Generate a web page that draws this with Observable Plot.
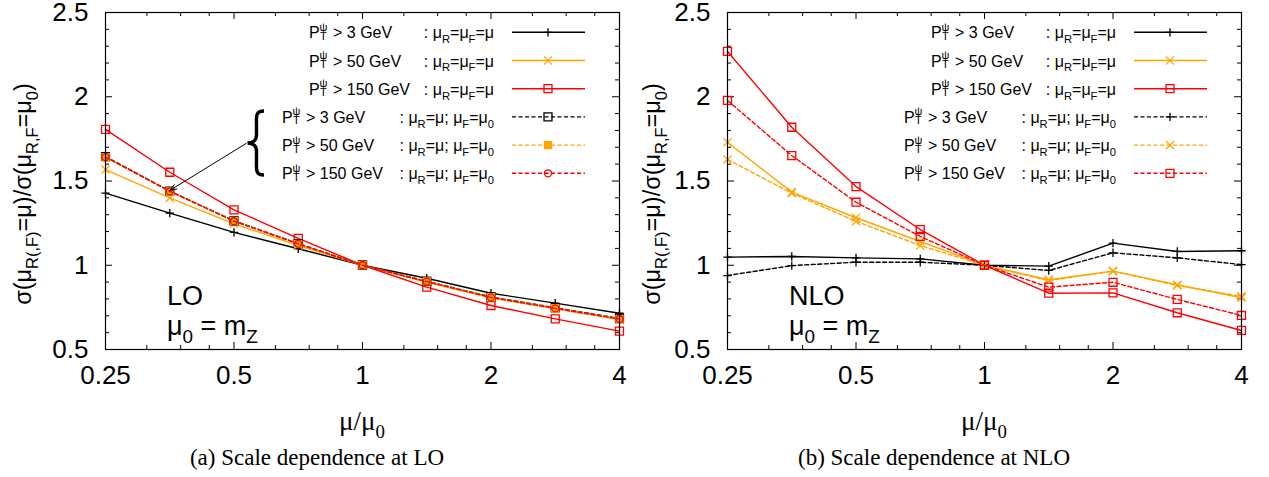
<!DOCTYPE html>
<html><head><meta charset="utf-8">
<script src="https://cdn.jsdelivr.net/npm/d3@7"></script>
<script src="https://cdn.jsdelivr.net/npm/@observablehq/plot@0.6"></script>
<style>
body{margin:0;background:#fff;}
#wrap{position:relative;width:1269px;height:477px;overflow:hidden;background:#fff;}
#wrap svg{position:absolute;top:0;}
.cap{position:absolute;top:445px;width:500px;text-align:center;font-family:"Liberation Serif","Times New Roman",serif;font-size:23px;line-height:26px;color:#000;}
</style></head>
<body><div id="wrap"></div>
<script>
// ---------- data ----------
const muRatio = [0.25, 0.3536, 0.5, 0.7071, 1, 1.4142, 2, 2.8284, 4];

// LO: mu_R = mu_F = mu
const loPt3RF   = [1.428, 1.309, 1.195, 1.098, 1.0, 0.923, 0.834, 0.775, 0.715];
const loPt50RF  = [1.568, 1.400, 1.246, 1.117, 1.0, 0.899, 0.807, 0.741, 0.678];
const loPt150RF = [1.806, 1.552, 1.329, 1.160, 1.0, 0.870, 0.761, 0.682, 0.609];
// LO: mu_R = mu ; mu_F = mu_0
const loPt3R    = [1.645, 1.440, 1.264, 1.129, 1.0, 0.905, 0.812, 0.748, 0.684];
const loPt50R   = [1.641, 1.438, 1.262, 1.127, 1.0, 0.904, 0.810, 0.745, 0.682];
const loPt150R  = [1.642, 1.439, 1.261, 1.127, 1.0, 0.903, 0.809, 0.744, 0.681];

// NLO: mu_R = mu_F = mu
const nloPt3RF   = [1.048, 1.052, 1.044, 1.038, 1.0, 0.995, 1.131, 1.082, 1.086];
const nloPt50RF  = [1.730, 1.434, 1.282, 1.141, 1.0, 0.914, 0.965, 0.884, 0.807];
const nloPt150RF = [2.269, 1.819, 1.467, 1.212, 1.0, 0.834, 0.836, 0.718, 0.613];
// NLO: mu_R = mu ; mu_F = mu_0
const nloPt3R    = [0.939, 0.998, 1.018, 1.018, 1.0, 0.969, 1.074, 1.044, 1.004];
const nloPt50R   = [1.628, 1.428, 1.261, 1.117, 1.0, 0.909, 0.965, 0.880, 0.815];
const nloPt150R  = [1.978, 1.651, 1.374, 1.171, 1.0, 0.870, 0.899, 0.797, 0.702];

const ptCuts = ["3", "50", "150"];
const xMajor = [0.25, 0.5, 1, 2, 4];
const xMinor = [0.3125, 0.375, 0.4375, 0.625, 0.75, 0.875, 1.25, 1.5, 1.75, 2.5, 3, 3.5];
const yMajor = [0.5, 1, 1.5, 2, 2.5];
const yMinor = [0.6,0.7,0.8,0.9,1.1,1.2,1.3,1.4,1.6,1.7,1.8,1.9,2.1,2.2,2.3,2.4];

// annotation (left panel): arrow from brace to the overlapping points
const arrowLO = [{x1: 0.534, y1: 1.723, x2: 0.3536, y2: 1.444}];

// ---------- styling ----------
const BLACK = "#000000", ORANGE = "#ffa500", RED = "#ff0000";
const SANS = "'Liberation Sans', Arial, Helvetica, sans-serif";
const SERIF = "'Liberation Serif', 'Times New Roman', serif";

const loSeries = [
  {values: loPt3RF,   color: BLACK,  dash: false, symbol: "plus",   r: 2.8, fill: "none", cut: 0, kind: "RF"},
  {values: loPt50RF,  color: ORANGE, dash: false, symbol: "times",  r: 3.8, fill: "none", cut: 1, kind: "RF"},
  {values: loPt150RF, color: RED,    dash: false, symbol: "square", r: 4.5, fill: "none", cut: 2, kind: "RF"},
  {values: loPt3R,    color: BLACK,  dash: true,  symbol: "square", r: 4.5, fill: "none", cut: 0, kind: "R"},
  {values: loPt50R,   color: ORANGE, dash: true,  symbol: "square", r: 4,   fill: ORANGE, cut: 1, kind: "R"},
  {values: loPt150R,  color: RED,    dash: true,  symbol: "circle", r: 3.5, fill: "none", cut: 2, kind: "R"}
];
const nloSeries = [
  {values: nloPt3RF,   color: BLACK,  dash: false, symbol: "plus",   r: 2.8, fill: "none", cut: 0, kind: "RF"},
  {values: nloPt50RF,  color: ORANGE, dash: false, symbol: "times",  r: 3.8, fill: "none", cut: 1, kind: "RF"},
  {values: nloPt150RF, color: RED,    dash: false, symbol: "square", r: 4.5, fill: "none", cut: 2, kind: "RF"},
  {values: nloPt3R,    color: BLACK,  dash: true,  symbol: "plus",   r: 2.8, fill: "none", cut: 0, kind: "R"},
  {values: nloPt50R,   color: ORANGE, dash: true,  symbol: "times",  r: 3.8, fill: "none", cut: 1, kind: "R"},
  {values: nloPt150R,  color: RED,    dash: true,  symbol: "square", r: 4.5, fill: "none", cut: 2, kind: "R"}
];

const symbolMap = {plus: d3.symbolPlus, times: d3.symbolTimes, square: d3.symbolSquare, circle: d3.symbolCircle};

function rich(textSel, parts, size) {
  let cur = 0;
  for (const [t, kind] of parts) {
    const off = kind === "sub" ? 0.3 * size : kind === "sup" ? -0.4 * size : 0;
    const ts = textSel.append("tspan").text(t).attr("dy", off - cur);
    if (kind !== "n") ts.attr("font-size", 0.7 * size);
    cur = off;
  }
}

function makePanel(cfg) {
  const {width, marginLeft, marginRight, series, order, yLabelX, arrows} = cfg;
  const height = 440, marginTop = 12, marginBottom = 91;
  const pw = width - marginLeft - marginRight, ph = height - marginTop - marginBottom;
  const majLen = 7, minLen = 4;
  const marks = [
    Plot.tickX(xMajor, {x: d => d, insetTop: ph - majLen, stroke: BLACK}),
    Plot.tickX(xMajor, {x: d => d, insetBottom: ph - majLen, stroke: BLACK}),
    Plot.tickX(xMinor, {x: d => d, insetTop: ph - minLen, stroke: BLACK}),
    Plot.tickX(xMinor, {x: d => d, insetBottom: ph - minLen, stroke: BLACK}),
    Plot.tickY(yMajor, {y: d => d, insetRight: pw - majLen, stroke: BLACK}),
    Plot.tickY(yMajor, {y: d => d, insetLeft: pw - majLen, stroke: BLACK}),
    Plot.tickY(yMinor, {y: d => d, insetRight: pw - minLen, stroke: BLACK}),
    Plot.tickY(yMinor, {y: d => d, insetLeft: pw - minLen, stroke: BLACK}),
    Plot.axisX({ticks: xMajor, tickSize: 0, tickPadding: 16, tickFormat: d => String(d), fontSize: 26, label: null}),
    Plot.axisY({ticks: yMajor, tickSize: 0, tickPadding: 17, tickFormat: d => String(d), fontSize: 26, label: null})
  ];
  for (const s of series) {
    const data = muRatio.map((m, i) => ({mu: m, v: s.values[i]}));
    marks.push(Plot.line(data, {x: "mu", y: "v", stroke: s.color, strokeWidth: 1.4,
      ...(s.dash ? {strokeDasharray: "4,2.5"} : {})}));
    marks.push(Plot.dot(data, {x: "mu", y: "v", symbol: s.symbol, r: s.r, stroke: s.color, fill: s.fill, strokeWidth: 1.3}));
  }
  if (arrows) {
    marks.push(Plot.arrow(arrows, {x1: "x1", y1: "y1", x2: "x2", y2: "y2", stroke: BLACK, strokeWidth: 1, headLength: 11, headAngle: 40}));
  }
  marks.push(Plot.frame({stroke: BLACK, strokeWidth: 1.2}));

  const svg = Plot.plot({
    width, height, marginTop, marginBottom, marginLeft, marginRight,
    x: {type: "log", base: 2, domain: [0.25, 4], label: null},
    y: {domain: [0.5, 2.5], label: null},
    style: {fontFamily: SANS, fontSize: "26px", color: BLACK, background: "transparent", overflow: "visible"},
    marks
  });

  const g = d3.select(svg).append("g").attr("text-anchor", "start");
  const fL = marginLeft, fR = width - marginRight;
  // y label
  const yl = g.append("text").attr("transform", `translate(${yLabelX},194) rotate(-90)`)
    .attr("text-anchor", "middle").attr("font-family", SANS).attr("font-size", 23.5).attr("fill", BLACK)
    .style("white-space", "pre");
  rich(yl, [["σ(μ","n"],["R(,F)","sub"],["=μ)/σ(μ","n"],["R,F","sub"],["=μ","n"],["0","sub"],[")","n"]], 23.5);
  // x label
  const xl = g.append("text").attr("x", (fL + fR) / 2).attr("y", 430).attr("text-anchor", "middle")
    .attr("font-family", SERIF).attr("font-size", 27).attr("fill", BLACK);
  rich(xl, [["μ/μ","n"],["0","sub"]], 27);
  // order label
  g.append("text").attr("x", fL + 62).attr("y", 305).attr("text-anchor", "start")
    .attr("font-family", SANS).attr("font-size", 27).text(order);
  const ml = g.append("text").attr("x", fL + 62).attr("y", 335).attr("text-anchor", "start")
    .attr("font-family", SANS).attr("font-size", 27).style("white-space", "pre");
  rich(ml, [["μ","n"],["0","sub"],[" = m","n"],["Z","sub"]], 27);

  // legend
  const rowY = [32.3, 60.5, 88.7, 116.9, 145.1, 173.3];
  series.forEach((s, i) => {
    const y = rowY[i], by = y + 6;
    const x0 = fR - (s.kind === "RF" ? 310 : 337);
    const lg = g.append("g").attr("font-family", SANS).attr("fill", BLACK).attr("text-anchor", "start");
    const pt = lg.append("text").attr("x", x0).attr("y", by).attr("font-size", 16).style("white-space", "pre");
    pt.append("tspan").attr("x", x0).text("P");
    pt.append("tspan").attr("x", x0 + 10.5).attr("dy", -7.5).attr("font-size", 11).text("ψ");
    pt.append("tspan").attr("x", x0 + 11).attr("dy", 9).attr("font-size", 11).text("T");
    pt.append("tspan").attr("x", x0 + 24).attr("dy", -1.5).text(`> ${ptCuts[s.cut]} GeV`);
    const ct = lg.append("text").attr("x", fR - 125).attr("y", by).attr("font-size", 16).attr("text-anchor", "end")
      .style("white-space", "pre");
    if (s.kind === "RF") rich(ct, [[": μ","n"],["R","sub"],["=μ","n"],["F","sub"],["=μ","n"]], 16);
    else rich(ct, [[": μ","n"],["R","sub"],["=μ; μ","n"],["F","sub"],["=μ","n"],["0","sub"]], 16);
    lg.append("line").attr("x1", fR - 107).attr("x2", fR - 34).attr("y1", y).attr("y2", y)
      .attr("stroke", s.color).attr("stroke-width", 1.4).attr("stroke-dasharray", s.dash ? "4,2.5" : null);
    lg.append("path").attr("transform", `translate(${fR - 71},${y})`)
      .attr("d", d3.symbol().type(symbolMap[s.symbol]).size(Math.PI * s.r * s.r)())
      .attr("stroke", s.color).attr("stroke-width", 1.3).attr("fill", s.fill);
  });
  return svg;
}

const wrap = document.getElementById("wrap");
const left = makePanel({width: 640, marginLeft: 105, marginRight: 21, series: loSeries, order: "LO", yLabelX: 31, arrows: arrowLO});
left.style.left = "0px";
wrap.appendChild(left);
// brace for the left panel annotation
d3.select(left).append("path")
  .attr("d", "M 264 111 C 255 111, 256.5 117, 256.5 125 L 256.5 135 C 256.5 140, 253 143, 247.5 143 C 253 143, 256.5 146, 256.5 151 L 256.5 161 C 256.5 169, 255 175, 264 175")
  .attr("fill", "none").attr("stroke", BLACK).attr("stroke-width", 3.4);

const right = makePanel({width: 629, marginLeft: 87, marginRight: 28, series: nloSeries, order: "NLO", yLabelX: 20});
right.style.left = "640px";
wrap.appendChild(right);

const c1 = document.createElement("div"); c1.className = "cap"; c1.style.left = "67px";
c1.textContent = "(a) Scale dependence at LO"; wrap.appendChild(c1);
const c2 = document.createElement("div"); c2.className = "cap"; c2.style.left = "684px";
c2.textContent = "(b) Scale dependence at NLO"; wrap.appendChild(c2);
</script>
</body></html>
